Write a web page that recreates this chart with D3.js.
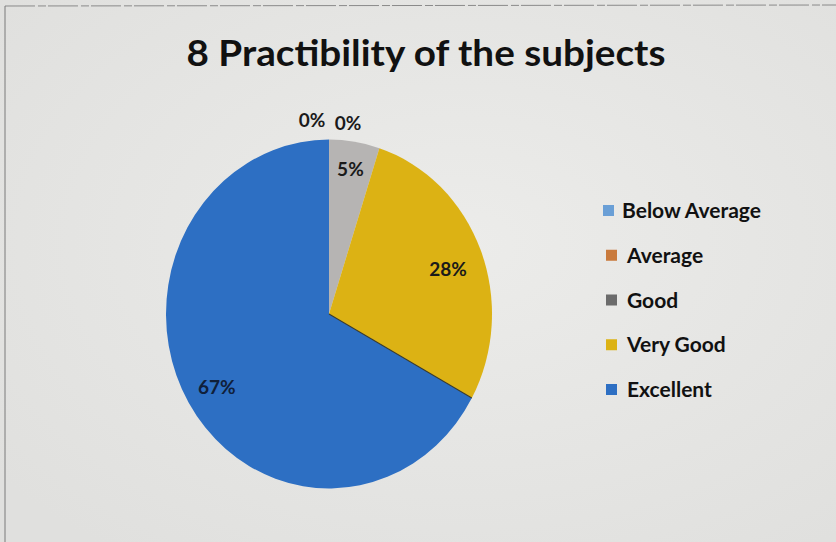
<!DOCTYPE html>
<html lang="en">
<head>
<meta charset="utf-8">
<title>8 Practibility of the subjects</title>
<script src="https://cdn.jsdelivr.net/npm/d3@7"></script>
<style>
  body { margin: 0; background: #e4e4e2; }
  svg { display: block; }
</style>
</head>
<body>
<div id="chart"></div>
<script>
var categories = ["Below Average", "Average", "Good", "Very Good", "Excellent"];
var values = [0, 0, 5, 28, 67];
var labels = ["0%", "0%", "5%", "28%", "67%"];
var colors = ["#6a9fd6", "#c97a3c", "#6b6b6b", "#dcb214", "#2d6fc3"];
var sliceColors = ["#6a9fd6", "#c97a3c", "#b6b4b3", "#dcb214", "#2d6fc3"];

var width = 836, height = 542;
var cx = 329, cy = 314, r = 163;

var svg = d3.select("#chart").append("svg")
    .attr("width", width)
    .attr("height", height);

// paper background with a soft light patch
var defs = svg.append("defs");
var grad = defs.append("radialGradient").attr("id", "paper")
    .attr("cx", "55%").attr("cy", "45%").attr("r", "70%");
grad.append("stop").attr("offset", "0%").attr("stop-color", "#ececea");
grad.append("stop").attr("offset", "100%").attr("stop-color", "#e0e0de");
svg.append("rect").attr("width", width).attr("height", height).attr("fill", "url(#paper)");

// chart frame (top and left edges visible in the photo)
svg.append("line").attr("x1", 5).attr("x2", width).attr("y1", 6).attr("y2", 5)
    .attr("stroke", "#8a8a8a").attr("stroke-width", 1).attr("stroke-dasharray", "30 3 8 2");
svg.append("line").attr("x1", 5).attr("x2", 5).attr("y1", 6).attr("y2", height)
    .attr("stroke", "#7a7a7a").attr("stroke-width", 1);

svg.append("text")
    .attr("x", 426).attr("y", 66)
    .attr("text-anchor", "middle")
    .attr("textLength", 479)
    .attr("lengthAdjust", "spacingAndGlyphs")
    .style("font-family", "Lato, 'Open Sans', sans-serif")
    .style("font-weight", "bold")
    .style("font-size", "37px")
    .attr("fill", "#111")
    .text("8 Practibility of the subjects");

var data = categories.map(function(c, i) {
    return {name: c, value: values[i], label: labels[i], color: sliceColors[i]};
});

var pie = d3.pie().sort(null).value(function(d) { return d.value; });
var arc = d3.arc().innerRadius(0).outerRadius(r);
var arcs = pie(data);

var g = svg.append("g")
    .attr("transform", "translate(" + cx + "," + cy + ") scale(1,1.07)");

g.selectAll("path")
    .data(arcs)
    .enter()
    .append("path")
    .attr("d", arc)
    .attr("fill", function(d) { return d.data.color; });

// thin dark seam between Very Good and Excellent like the print
g.append("line")
    .attr("x1", 0).attr("y1", 0)
    .attr("x2", r * Math.sin(arcs[3].endAngle))
    .attr("y2", -r * Math.cos(arcs[3].endAngle))
    .attr("stroke", "#3a3a2a").attr("stroke-width", 1);

// label placement: radius factor per slice, zero slices sit outside
var labelR = [1.18, 1.12, 0.84, 0.74, 0.80];
var labelDx = [-17, 19, 0, 7, 0];
var labelDy = [12, 4, 0, 3, 2];

svg.selectAll("text.lbl")
    .data(arcs)
    .enter()
    .append("text")
    .attr("class", "lbl")
    .attr("x", function(d, i) {
        var a = (d.startAngle + d.endAngle) / 2;
        return cx + Math.sin(a) * r * labelR[i] + labelDx[i];
    })
    .attr("y", function(d, i) {
        var a = (d.startAngle + d.endAngle) / 2;
        return cy - Math.cos(a) * r * labelR[i] * 1.07 + labelDy[i] + 7;
    })
    .attr("text-anchor", "middle")
    .style("font-family", "Lato, 'Open Sans', sans-serif")
    .style("font-weight", "bold")
    .style("font-size", "19px")
    .attr("fill", function(d, i) { return i === 4 ? "#10203a" : "#1a1a1a"; })
    .text(function(d) { return d.data.label; });

// legend
var legend = svg.append("g").attr("transform", "translate(603,0)");
var rowY = d3.scalePoint().domain(categories).range([211, 390]);

var rows = legend.selectAll("g")
    .data(categories)
    .enter()
    .append("g")
    .attr("transform", function(d) { return "translate(0," + rowY(d) + ")"; });

rows.append("rect")
    .attr("x", function(d, i) { return i === 0 ? 0 : 3; })
    .attr("y", -6)
    .attr("width", 11).attr("height", 11)
    .attr("fill", function(d, i) { return colors[i]; });

rows.append("text")
    .attr("x", function(d, i) { return i === 0 ? 19 : 24; })
    .attr("y", 7)
    .style("font-family", "Lato, 'Open Sans', sans-serif")
    .style("font-weight", "bold")
    .style("font-size", "21px")
    .attr("fill", "#111")
    .text(function(d) { return d; });
</script>
</body>
</html>
